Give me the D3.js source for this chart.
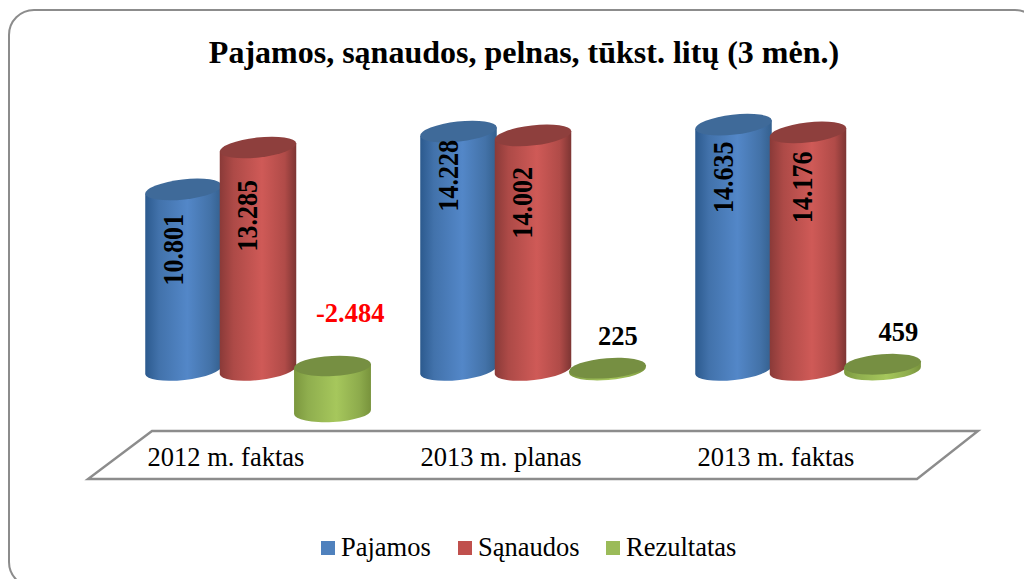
<!DOCTYPE html>
<html><head><meta charset="utf-8">
<script src="https://cdn.jsdelivr.net/npm/d3@7"></script>
<style>html,body{margin:0;padding:0;background:#fff;overflow:hidden}svg{display:block}text{font-family:"Liberation Serif","Times New Roman",serif}</style>
</head><body><div id="c"></div>
<script>
const chartTitle = "Pajamos, sąnaudos, pelnas, tūkst. litų (3 mėn.)";
const categories = ["2012 m. faktas", "2013 m. planas", "2013 m. faktas"];
const seriesNames = ["Pajamos", "Sąnaudos", "Rezultatas"];
const pajamos = [10801, 14228, 14635];
const sanaudos = [13285, 14002, 14176];
const rezultatas = [-2484, 225, 459];
const seriesValues = [pajamos, sanaudos, rezultatas];

const W = 1024, H = 579;
const fmt = d3.formatLocale({decimal: ",", thousands: ".", grouping: [3], currency: ["", ""], minus: "-"}).format(",d");
const styles = [
  {key:"blue",  legend:"#4f81bd", top:"#3f6a99", tilt:-6.5, stops:[["0%","#2c5a8e"],["18%","#4272ab"],["55%","#5387c8"],["85%","#4372a8"],["100%","#34608e"]]},
  {key:"red",   legend:"#c0504d", top:"#8e3f3d", tilt:-6.5, stops:[["0%","#8a3a38"],["18%","#ad4a47"],["55%","#cf5a57"],["85%","#b04b48"],["100%","#7d3533"]]},
  {key:"green", legend:"#9bbb59", top:"#768f42", tilt:-4.5, stops:[["0%","#7b973e"],["18%","#8fae4e"],["55%","#a6c75c"],["85%","#8dab4c"],["100%","#78933c"]]}
];
// label placement relative to each cylinder (series, category)
const labelShift = [
  [[-10.25,-31],[-10.25,-76],[-10.25,-71]],
  [[-10.75,-44],[-10.75,-51],[-5.75,-65]],
  [[17.75,-50],[10.25,-23],[15.75,-23]]
];

const svg = d3.select("#c").append("svg").attr("width", W).attr("height", H);
const defs = svg.append("defs");
styles.forEach(s => {
  const g = defs.append("linearGradient").attr("id", "grad-" + s.key).attr("x1", 0).attr("x2", 1).attr("y1", 0).attr("y2", 0);
  s.stops.forEach(st => g.append("stop").attr("offset", st[0]).attr("stop-color", st[1]));
});

// frame
svg.append("rect").attr("x", 9).attr("y", 10).attr("width", 1031).attr("height", 577).attr("rx", 25).attr("ry", 25)
  .attr("fill", "#fff").attr("stroke", "#8c8c8c").attr("stroke-width", 2);

svg.append("text").attr("x", 524).attr("y", 63).attr("text-anchor", "middle")
  .attr("font-size", 32).attr("font-weight", "bold").attr("fill", "#000").text(chartTitle);

// scales
const y = d3.scaleLinear().domain([0, 15000]).range([372, 118.5]);
const x0 = d3.scaleBand().domain(categories).range([120.5, 945.5]);
const x1 = d3.scaleBand().domain(seriesNames).range([-111.75, 111.75]);
const groupCentre = c => x0(c) + x0.bandwidth() / 2;
const barCentre = (c, s) => groupCentre(c) + x1(s) + x1.bandwidth() / 2;

// category plate
svg.append("path").attr("d", d3.line()([[88,479],[917,479],[978,431],[152,431]]) + "Z")
  .attr("fill", "#fff").attr("stroke", "#8c8c8c").attr("stroke-width", 2.4);
svg.append("g").selectAll("text").data(categories).join("text")
  .attr("x", d => groupCentre(d) - 32).attr("y", 466).attr("text-anchor", "middle")
  .attr("font-size", 26.5).attr("fill", "#000").text(d => d);

// cylinders
const rx = 38.5, ry = 10;
const negLift = 6, baseInset = 2;
const marks = svg.append("g");
categories.forEach((c, ci) => {
  seriesNames.forEach((s, si) => {
    const v = seriesValues[si][ci], cx = barCentre(c, s);
    const tilt = v < 0 ? -3 : styles[si].tilt;
    const dx = rx * Math.cos(tilt * Math.PI / 180), dy = rx * Math.sin(-tilt * Math.PI / 180);
    const topY = y(Math.max(v, 0)) - (v < 0 ? negLift : 0), botY = y(Math.min(v, 0)) - baseInset;
    marks.append("path")
      .attr("d", `M${cx-dx},${topY+dy}L${cx-dx},${botY+dy}A${rx},${ry} ${tilt} 0 0 ${cx+dx},${botY-dy}L${cx+dx},${topY-dy}Z`)
      .attr("fill", `url(#grad-${styles[si].key})`);
    marks.append("ellipse").attr("cx", 0).attr("cy", 0).attr("rx", rx).attr("ry", ry)
      .attr("transform", `translate(${cx},${topY}) rotate(${tilt})`)
      .attr("fill", styles[si].top);
  });
});

// value labels
categories.forEach((c, ci) => {
  seriesNames.forEach((s, si) => {
    const v = seriesValues[si][ci], cx = barCentre(c, s), sh = labelShift[si][ci];
    const t = svg.append("text").attr("font-weight", "bold").attr("text-anchor", "middle")
      .attr("fill", v < 0 ? "#ff0000" : "#000").text(fmt(v));
    if (si < 2) {
      t.attr("font-size", 26).attr("transform", `translate(${cx + sh[0] + 10},${(y(v) + y(0)) / 2 + sh[1]}) rotate(-90) scale(1,1.13)`);
    } else {
      t.attr("font-size", 26.5).attr("x", cx + sh[0]).attr("y", y(Math.max(v, 0)) + sh[1]);
    }
  });
});

// legend
const legendX = [321, 458, 606];
const legend = svg.append("g").selectAll("g").data(seriesNames).join("g")
  .attr("transform", (d, i) => `translate(${legendX[i]},0)`);
legend.append("rect").attr("x", 0).attr("y", 541).attr("width", 14).attr("height", 14)
  .attr("fill", (d, i) => styles[i].legend);
legend.append("text").attr("x", 20).attr("y", 556).attr("font-size", 26.5).attr("fill", "#000").text(d => d);
</script></body></html>
